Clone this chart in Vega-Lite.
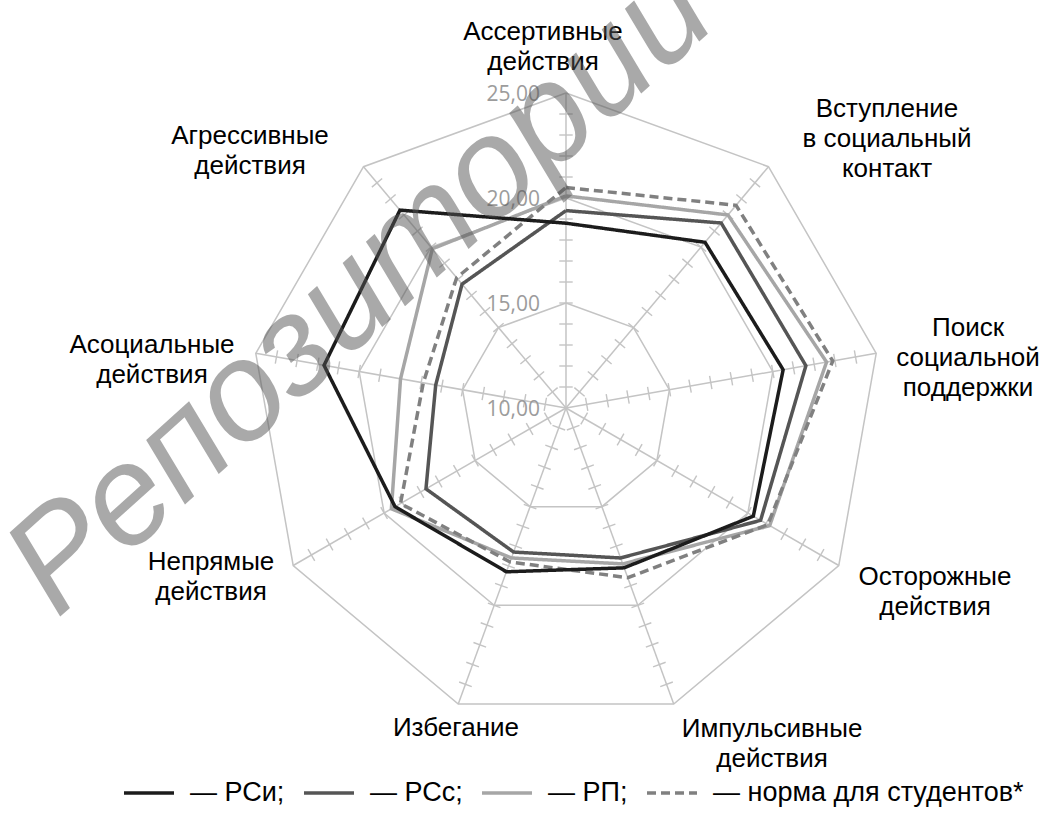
{
  "$schema": "https://vega.github.io/schema/vega-lite/v6.json",
  "width": 1045,
  "height": 824,
  "autosize": {"type": "none"},
  "padding": 0,
  "background": "white",
  "config": {"view": {"stroke": null}},
  "layer": [
    {
      "data": {"values": [
        {"ring": 15, "k": [0,1,2,3,4,5,6,7,8,9]},
        {"ring": 20, "k": [0,1,2,3,4,5,6,7,8,9]},
        {"ring": 25, "k": [0,1,2,3,4,5,6,7,8,9]}
      ]},
      "transform": [
        {"flatten": ["k"]},
        {"calculate": "datum.k * 2 * PI / 9", "as": "th"},
        {"calculate": "(datum.ring - 10) * sin(datum.th)", "as": "x"},
        {"calculate": "(datum.ring - 10) * cos(datum.th)", "as": "y"}
      ],
      "mark": {"type": "line", "stroke": "#c4c4c4", "strokeWidth": 1.5},
      "encoding": {
        "x": {"field": "x", "type": "quantitative", "scale": {"domain": [-26.952, 22.81], "nice": false, "zero": false}, "axis": null},
        "y": {"field": "y", "type": "quantitative", "scale": {"domain": [-19.81, 19.429], "nice": false, "zero": false}, "axis": null},
        "detail": {"field": "ring"},
        "order": {"field": "k", "type": "quantitative"}
      }
    },
    {
      "data": {"name": "axes"},
      "transform": [
        {"calculate": "datum.k * 2 * PI / 9", "as": "th"},
        {"calculate": "15 * sin(datum.th)", "as": "ex"},
        {"calculate": "15 * cos(datum.th)", "as": "ey"}
      ],
      "mark": {"type": "rule", "stroke": "#c4c4c4", "strokeWidth": 1.5},
      "encoding": {
        "x": {"field": "ex", "type": "quantitative"},
        "y": {"field": "ey", "type": "quantitative"},
        "x2": {"datum": 0},
        "y2": {"datum": 0}
      }
    },
    {
      "data": {"values": [
        {"k": 0, "t": [11,12,13,14,15,16,17,18,19,20,21,22,23,24]},
        {"k": 1, "t": [11,12,13,14,15,16,17,18,19,20,21,22,23,24]},
        {"k": 2, "t": [11,12,13,14,15,16,17,18,19,20,21,22,23,24]},
        {"k": 3, "t": [11,12,13,14,15,16,17,18,19,20,21,22,23,24]},
        {"k": 4, "t": [11,12,13,14,15,16,17,18,19,20,21,22,23,24]},
        {"k": 5, "t": [11,12,13,14,15,16,17,18,19,20,21,22,23,24]},
        {"k": 6, "t": [11,12,13,14,15,16,17,18,19,20,21,22,23,24]},
        {"k": 7, "t": [11,12,13,14,15,16,17,18,19,20,21,22,23,24]},
        {"k": 8, "t": [11,12,13,14,15,16,17,18,19,20,21,22,23,24]}
      ]},
      "transform": [
        {"flatten": ["t"]},
        {"calculate": "datum.k * 2 * PI / 9", "as": "th"},
        {"calculate": "datum.k * 40", "as": "deg"},
        {"calculate": "(datum.t - 10) * sin(datum.th)", "as": "x"},
        {"calculate": "(datum.t - 10) * cos(datum.th)", "as": "y"}
      ],
      "mark": {"type": "point", "shape": "stroke", "filled": false, "stroke": "#c4c4c4", "strokeWidth": 1.4, "size": 180, "opacity": 1},
      "encoding": {
        "x": {"field": "x", "type": "quantitative"},
        "y": {"field": "y", "type": "quantitative"},
        "angle": {"field": "deg", "type": "quantitative", "scale": null}
      }
    },
    {
      "data": {"name": "series"},
      "transform": [
        {"calculate": "datum.k * 2 * PI / 9", "as": "th"},
        {"calculate": "(datum.value - 10) * sin(datum.th)", "as": "x"},
        {"calculate": "(datum.value - 10) * cos(datum.th)", "as": "y"}
      ],
      "mark": {"type": "line", "strokeWidth": 3.5},
      "encoding": {
        "x": {"field": "x", "type": "quantitative"},
        "y": {"field": "y", "type": "quantitative"},
        "order": {"field": "k", "type": "quantitative"},
        "color": {
          "field": "series", "type": "nominal",
          "scale": {"domain": ["РСи", "РСс", "РП", "норма для студентов*"], "range": ["#1c1c1c", "#555555", "#a6a6a6", "#808080"]},
          "legend": {
            "orient": "none", "legendX": 122, "legendY": 766, "direction": "horizontal", "title": null,
            "symbolType": "stroke", "symbolSize": 2500, "symbolStrokeWidth": 3.5,
            "labelFontSize": 27, "labelFont": "Liberation Sans", "labelColor": "#000000", "labelLimit": 700,
            "labelOffset": 14, "columnPadding": 12,
            "labelExpr": "datum.label == 'норма для студентов*' ? '— ' + datum.label : '— ' + datum.label + ';'"
          }
        },
        "strokeDash": {
          "field": "series", "type": "nominal",
          "scale": {"domain": ["РСи", "РСс", "РП", "норма для студентов*"], "range": [[1, 0], [1, 0], [1, 0], [9, 5]]},
          "legend": {
            "orient": "none", "legendX": 122, "legendY": 766, "direction": "horizontal", "title": null,
            "symbolType": "stroke", "symbolSize": 2500, "symbolStrokeWidth": 3.5,
            "labelFontSize": 27, "labelFont": "Liberation Sans", "labelColor": "#000000", "labelLimit": 700,
            "labelOffset": 14, "columnPadding": 12,
            "labelExpr": "datum.label == 'норма для студентов*' ? '— ' + datum.label : '— ' + datum.label + ';'"
          }
        }
      }
    },
    {
      "data": {"values": [
        {"v": 10, "label": "10,00"},
        {"v": 15, "label": "15,00"},
        {"v": 20, "label": "20,00"},
        {"v": 25, "label": "25,00"}
      ]},
      "transform": [{"calculate": "datum.v - 10", "as": "r"}],
      "mark": {"type": "text", "align": "right", "baseline": "middle", "dx": -26, "dy": 2, "font": "Open Sans", "fontSize": 21, "color": "#9c9c9c"},
      "encoding": {
        "x": {"datum": 0, "type": "quantitative"},
        "y": {"field": "r", "type": "quantitative"},
        "text": {"field": "label"}
      }
    },
    {
      "data": {"name": "axes"},
      "transform": [
        {"calculate": "datum.k * 2 * PI / 9", "as": "th"},
        {"calculate": "15 * sin(datum.th) + [-23, 118.5, 91.8, 96.2, 98.3, -2.3, -82.2, -103.8, -113.5][datum.k] / 21", "as": "lx"},
        {"calculate": "15 * cos(datum.th) - [-61, -57.7, -25.3, 11.5, 25, 24, -3.5, -8.3, -30.7][datum.k] / 21", "as": "ly"}
      ],
      "mark": {"type": "text", "align": "center", "baseline": "middle", "lineBreak": "\n", "lineHeight": 30, "font": "Liberation Sans", "fontSize": 26, "color": "#000000"},
      "encoding": {
        "x": {"field": "lx", "type": "quantitative"},
        "y": {"field": "ly", "type": "quantitative"},
        "text": {"field": "label"}
      }
    },
    {
      "data": {"values": [{"w": "Репозиторий"}]},
      "mark": {"type": "text", "align": "center", "baseline": "middle", "angle": 318, "font": "Liberation Sans", "fontStyle": "italic", "fontSize": 140, "color": "#555555", "opacity": 0.5},
      "encoding": {
        "x": {"datum": -9.78, "type": "quantitative"},
        "y": {"datum": 5.63, "type": "quantitative"},
        "text": {"field": "w"}
      }
    }
  ],
  "datasets": {
    "axes": [
      {"k": 0, "label": "Ассертивные\nдействия"},
      {"k": 1, "label": "Вступление\nв социальный\nконтакт"},
      {"k": 2, "label": "Поиск\nсоциальной\nподдержки"},
      {"k": 3, "label": "Осторожные\nдействия"},
      {"k": 4, "label": "Импульсивные\nдействия"},
      {"k": 5, "label": "Избегание"},
      {"k": 6, "label": "Непрямые\nдействия"},
      {"k": 7, "label": "Асоциальные\nдействия"},
      {"k": 8, "label": "Агрессивные\nдействия"}
    ],
    "series": [
      {"series": "РП", "k": 0, "value": 20.1},
      {"series": "РП", "k": 1, "value": 22.0},
      {"series": "РП", "k": 2, "value": 22.6},
      {"series": "РП", "k": 3, "value": 21.2},
      {"series": "РП", "k": 4, "value": 17.9},
      {"series": "РП", "k": 5, "value": 17.6},
      {"series": "РП", "k": 6, "value": 19.6},
      {"series": "РП", "k": 7, "value": 18.0},
      {"series": "РП", "k": 8, "value": 19.9},
      {"series": "РП", "k": 9, "value": 20.1},
      {"series": "норма для студентов*", "k": 0, "value": 20.5},
      {"series": "норма для студентов*", "k": 1, "value": 22.6},
      {"series": "норма для студентов*", "k": 2, "value": 22.9},
      {"series": "норма для студентов*", "k": 3, "value": 21.1},
      {"series": "норма для студентов*", "k": 4, "value": 18.6},
      {"series": "норма для студентов*", "k": 5, "value": 17.8},
      {"series": "норма для студентов*", "k": 6, "value": 19.1},
      {"series": "норма для студентов*", "k": 7, "value": 16.9},
      {"series": "норма для студентов*", "k": 8, "value": 18.1},
      {"series": "норма для студентов*", "k": 9, "value": 20.5},
      {"series": "РСс", "k": 0, "value": 19.4},
      {"series": "РСс", "k": 1, "value": 21.5},
      {"series": "РСс", "k": 2, "value": 21.6},
      {"series": "РСс", "k": 3, "value": 20.7},
      {"series": "РСс", "k": 4, "value": 17.6},
      {"series": "РСс", "k": 5, "value": 17.3},
      {"series": "РСс", "k": 6, "value": 17.7},
      {"series": "РСс", "k": 7, "value": 16.3},
      {"series": "РСс", "k": 8, "value": 17.7},
      {"series": "РСс", "k": 9, "value": 19.4},
      {"series": "РСи", "k": 0, "value": 18.8},
      {"series": "РСи", "k": 1, "value": 20.3},
      {"series": "РСи", "k": 2, "value": 20.5},
      {"series": "РСи", "k": 3, "value": 20.3},
      {"series": "РСи", "k": 4, "value": 18.1},
      {"series": "РСи", "k": 5, "value": 18.3},
      {"series": "РСи", "k": 6, "value": 19.4},
      {"series": "РСи", "k": 7, "value": 21.7},
      {"series": "РСи", "k": 8, "value": 22.3},
      {"series": "РСи", "k": 9, "value": 18.8}
    ]
  }
}
